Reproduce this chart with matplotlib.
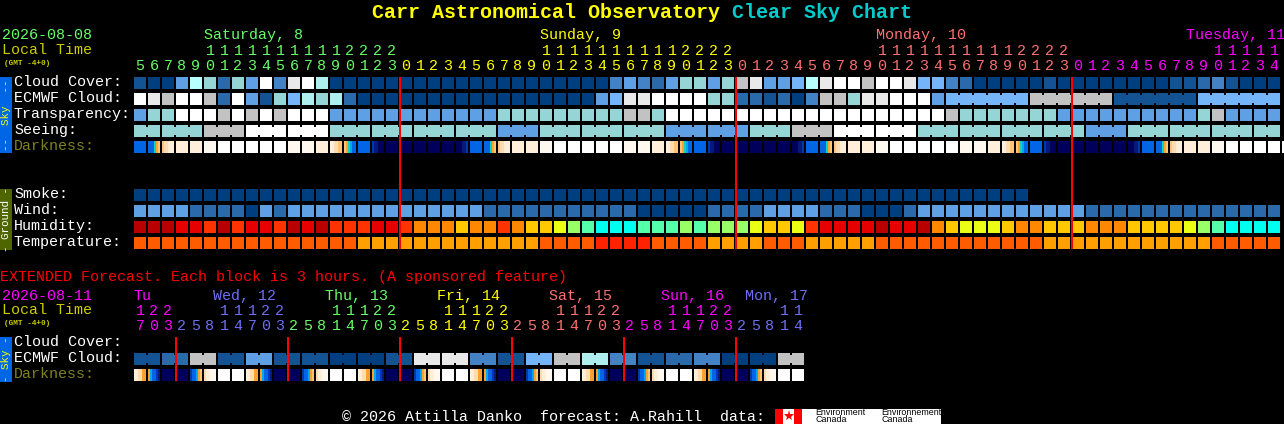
import matplotlib
matplotlib.use("Agg")
import matplotlib.pyplot as plt

MONO = "Liberation Mono"

# block colours: clouds, transparency, seeing, smoke, wind share one scale
sky_colors = {"0": "#003f7f", "1": "#135393", "2": "#2a6aaa", "3": "#4382c4",
              "4": "#5f9fe3", "5": "#74b5fa", "6": "#95d5d5", "7": "#aeeeee",
              "8": "#b8ffff", "c": "#c2c2c2", "d": "#e9e9e9", "e": "#ffffff"}
humidity_colors = {"D": "#b80000", "R": "#e60000", "r": "#ff3300", "o": "#ff8800",
                   "y": "#ffc800", "Y": "#eaff14", "g": "#98ff66", "m": "#55ffaa",
                   "C": "#00ffee"}
temp_colors = {"r": "#ff2200", "O": "#ff5c00", "A": "#ffa000"}
dark_colors = {"W": "#ffffff", "c": "#fff8ee", "p": "#ffeeda", "l": "#ffdcb0",
               "o": "#ffc478", "O": "#ffa030", "t": "#10d0c0", "s": "#00a8f0",
               "B": "#0066e6", "m": "#0038b0", "d": "#001a80", "n": "#00005c"}

# hourly rows, one character per block (or per joined stretch, see *_groups)
cloud_cover = ("100486264e" "3de7000000" "0000000000" "0000343246" "646cd4458d"
               "eeceed5532" "0000010000" "0000112310" "00")
ecmwf_cloud = ("edceec2e41" "6576720000" "0000000000" "00045ddeee" "e66221203c"
               "c6ddeee4" "5c15")
ecmwf_groups = [1] * 58 + [6, 6, 6, 6]
transparency = ("466eeecece" "ceee444444" "4444446666" "66666cc6ee" "eeeeeeeeee"
                "eeeeeeeec6" "6666664444" "4444446c44" "44")
seeing = "66cee6666466644" "6cee66664" "6666"
seeing_groups = [2] + [3] * 26 + [2]
smoke = "0000000000" "0000000000" "0000000000" "0000000000" "0000000000" "0000000000" "0000"
wind = ("4444222204" "2" "4444444444" "4444" "2222222222" "2" "00000" "2222" "4444"
        "222" "000" "2" "444444444444" "22222222222222")
humidity = ("DDDRRrDrRR" "rDRDrrrRRr" "oooyooroyy" "YgmCCCmmmg" "mgggYyyYrR"
            "RRRDRRDoyY" "YYyooyyyoo" "oyyyyYgmCC" "CC")
temperature = ("OOOOOOOOOO" "OOOOOOAAAA" "AAAAAAAAAO" "OOOrrrrOOO" "OAAAAOOOAA"
               "AAAOOOOOOO" "OOOOOAAAAA" "AAAAAAAOOO" "OO")
darkness = ("B BBBtOo ollppp p p c W W W W W c c p pplloo oOtsBB B mddnnn n n n n n nnnddm "
            "B BBBtOo ollppp p p c W W W W W c c p pplloo oOtsBB B mddnnn n n n n n nnnddm "
            "B BBBtOo ollppp p p c W W W W W c c p pplloo oOtsBB B mddnnn n n n n n nnnddm "
            "B BBBtOo ollppp p p c W W W W W").split()

hour_tens = ("     " "11111111112222" "          " "11111111112222"
             "          " "11111111112222" "          " "11111")
hour_units = "5678901234567890123" "012345678901234567890123" "012345678901234567890123" "012345678901234"
hour_day_sizes = [19, 24, 24, 15]
hour_day_colors = ["#66ff66", "#ffff00", "#ff7070", "#ff00ff"]
day_labels = ["Saturday, 8", "Sunday, 9", "Monday, 10", "Tuesday, 11"]
day_label_x = [204, 540, 876, 1186]
midnights = [19, 43, 67]

# extended forecast, 3 hour blocks
ext_ecmwf = "12c141100" "1dd315c73" "12300c"
ext_groups = [2] * 24
ext_darkness = ("ppllOO OsBBmd n n mBBsOo lppccc W W "
                "ppllOO OsBBmd n n mBBsOo lppccc W W "
                "ppllOO OsBBmd n n mBBsOo lppccc W W "
                "ppllOO OsBBmd n n mBBsOo lppccc W W "
                "ppllOO OsBBmd n n mBBsOo lppccc W W "
                "ppllOO OsBBmd n n mBBsOo lppccc W W").split()
ext_tens = "122" "   11122" "   11122" "   11122" "   11122" "   11122" "   11"
ext_units = "703" "25814703" "25814703" "25814703" "25814703" "25814703" "25814"
ext_day_sizes = [3, 8, 8, 8, 8, 8, 5]
ext_day_colors = ["#ff00ff", "#6f6ff5", "#66ff66", "#ffff00", "#ff7070", "#ff00ff", "#6f6ff5"]
ext_day_labels = ["Tu", "Wed, 12", "Thu, 13", "Fri, 14", "Sat, 15", "Sun, 16", "Mon, 17"]
ext_day_x = [134, 213, 325, 437, 549, 661, 745]
ext_midnights = [3, 11, 19, 27, 35, 43]

X0, PITCH, BOX = 134, 14, 12

fig = plt.figure(figsize=(12.84, 4.24), dpi=100, facecolor="black")
ax = fig.add_axes([0, 0, 1, 1])
ax.set_facecolor("black")
ax.axis("off")


def txt(x, y, s, color="white", size=10.8, **kw):
    kw.setdefault("family", MONO)
    ax.text(x, y, s, color=color, fontsize=size, va="baseline", **kw)


def bar(x, y, w, h, color):
    ax.bar(x, h, width=w, bottom=y, align="edge", color=color, linewidth=0, snap=False)


def draw_row(values, palette, y, groups=None):
    groups = groups or [1] * len(values)
    i = 0
    for val, n in zip(values, groups):
        for k in range(n):
            bar(X0 + PITCH * (i + k), y, BOX, BOX, palette[val])
            if k < n - 1:
                # joined blocks keep a narrower neck across the gap
                bar(X0 + PITCH * (i + k) + BOX, y + 2, PITCH - BOX, BOX - 4, palette[val])
        i += n


def draw_darkness(cells, y):
    for i, cell in enumerate(cells):
        step = BOX / len(cell)
        for k, ch in enumerate(cell):
            bar(X0 + PITCH * i + k * step, y, step, BOX, dark_colors[ch])


def draw_hours(tens, units, sizes, colors, y_tens, y_units):
    i = 0
    for n, col in zip(sizes, colors):
        for j in range(i, i + n):
            cx = X0 + PITCH * j + 6
            if tens[j] != " ":
                txt(cx, y_tens, tens[j], col, ha="center")
            txt(cx, y_units, units[j], col, ha="center")
        i += n


def side_bar(y0, y1, color, label, text_color):
    bar(0, y0, 12, y1 - y0, color)
    ax.text(6, (y0 + y1) / 2, label, color=text_color, fontsize=7.8, family=MONO,
            rotation=90, ha="center", va="center")


# title
txt(372, 17.5, "Carr Astronomical Observatory", "#ffff00", 14.4, weight="bold")
txt(732, 17.5, "Clear Sky Chart", "#00cccc", 14.4, weight="bold")

# header
txt(2, 39, "2026-08-08", "#66ff66")
txt(2, 54, "Local Time", "#cccc00")
txt(4, 65, "(GMT -4+0)", "#cccc00", 5.6, weight="bold")
for lab, x, col in zip(day_labels, day_label_x, hour_day_colors):
    txt(x, 39, lab, col)
draw_hours(hour_tens, hour_units, hour_day_sizes, hour_day_colors, 55, 70)

# sky rows
draw_row(cloud_cover, sky_colors, 77)
draw_row(ecmwf_cloud, sky_colors, 93, ecmwf_groups)
draw_row(transparency, sky_colors, 109)
draw_row(seeing, sky_colors, 125, seeing_groups)
draw_darkness(darkness, 141)

# ground rows
draw_row(smoke, sky_colors, 189)
draw_row(wind, sky_colors, 205)
draw_row(humidity, humidity_colors, 221)
draw_row(temperature, temp_colors, 237)

for m in midnights:
    bar(X0 + PITCH * m - 1, 77, 2, 172, "#ff0000")

for y, lab in zip([86, 102, 118, 134], ["Cloud Cover:", "ECMWF Cloud:", "Transparency:", "Seeing:"]):
    txt(14, y, lab)
txt(14, 150, "Darkness:", "#808020")
for y, lab in zip([198, 214, 230, 246], ["Smoke:", "Wind:", "Humidity:", "Temperature:"]):
    txt(14, y, lab)

side_bar(77, 153, "#0066e6", "--  Sky  --", "#ffff00")
side_bar(189, 250, "#4f6600", "- Ground -", "white")

# extended part
txt(0, 281, "EXTENDED Forecast. Each block is 3 hours. (A sponsored feature)", "#ff0000")
txt(2, 300, "2026-08-11", "#ff00ff")
txt(2, 314, "Local Time", "#cccc00")
txt(4, 325, "(GMT -4+0)", "#cccc00", 5.6, weight="bold")
for lab, x, col in zip(ext_day_labels, ext_day_x, ext_day_colors):
    txt(x, 300, lab, col)
draw_hours(ext_tens, ext_units, ext_day_sizes, ext_day_colors, 315, 330)

draw_row(ext_ecmwf, sky_colors, 353, ext_groups)
draw_darkness(ext_darkness, 369)
for m in ext_midnights:
    bar(X0 + PITCH * m - 1, 337, 2, 44, "#ff0000")

txt(14, 346, "Cloud Cover:")
txt(14, 362, "ECMWF Cloud:")
txt(14, 378, "Darkness:", "#808020")
side_bar(337, 382, "#0066e6", "- Sky -", "#ffff00")

# footer with the data credit logo
txt(342, 421, "\u00a9 2026 Attilla Danko  forecast: A.Rahill  data:")
bar(775, 409, 166, 15, "#ffffff")
bar(775, 409, 8, 15, "#ff0000")
bar(794, 409, 8, 15, "#ff0000")
ax.plot([788.5], [416], marker="*", ms=8, color="#ff0000", mew=0)
for x, word in zip([815, 881], ["Environment", "Environnement"]):
    txt(x, 415, word, "black", 6.4, family="Liberation Sans")
    txt(x, 422, "Canada", "black", 6.4, family="Liberation Sans")

ax.set_xlim(0, 1284)
ax.set_ylim(424, 0)
fig.savefig("out.png", dpi=100, facecolor="black")
